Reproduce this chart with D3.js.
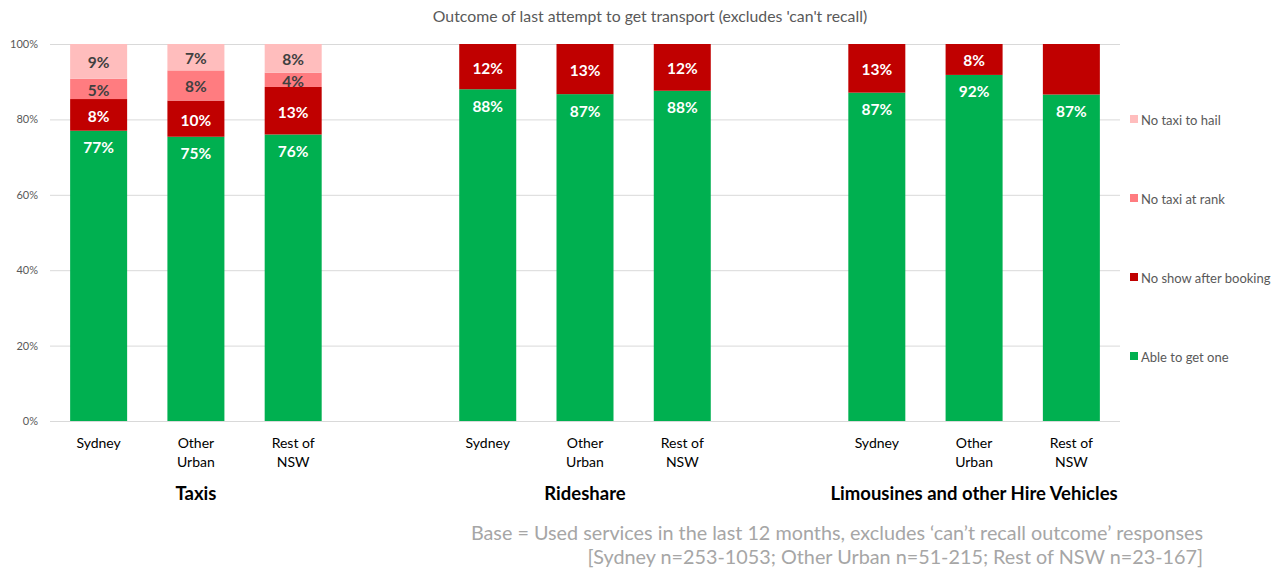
<!DOCTYPE html>
<html>
<head>
<meta charset="utf-8">
<script src="https://cdn.jsdelivr.net/npm/d3@7"></script>
<style>
  html, body { margin: 0; padding: 0; background: #fff; }
  svg { display: block; font-family: Lato, "Open Sans", sans-serif; }
</style>
</head>
<body>
<svg id="chart" width="1285" height="572"></svg>
<script>
// Survey results: outcome of the last attempt to get transport, by service and region
const groups = ["Taxis", "Rideshare", "Limousines and other Hire Vehicles"];
const regions = [["Sydney"], ["Other", "Urban"], ["Rest of", "NSW"]];
const seriesNames = ["Able to get one", "No show after booking", "No taxi at rank", "No taxi to hail"];
const seriesColors = ["#00B050", "#C00000", "#FF7C80", "#FFBDBD"];
const labelColors = ["#ffffff", "#ffffff", "#404040", "#404040"];

// share of respondents (%) per bar, in order: Taxis x3, Rideshare x3, Limousines x3
const ableToGetOne   = [77.0, 75.4, 76.0, 88.0, 86.7, 87.6, 87.1, 91.8, 86.6];
const noShowBooking  = [8.4, 9.6, 12.6, 12.0, 13.3, 12.4, 12.9, 8.2, 13.4];
const noTaxiAtRank   = [5.4, 8.0, 3.8, 0, 0, 0, 0, 0, 0];
const noTaxiToHail   = [9.2, 7.0, 7.6, 0, 0, 0, 0, 0, 0];
// bars whose "No show after booking" segment carries no data label
const unlabelled = [[8, 1]];

const yTicks = [0, 20, 40, 60, 80, 100];
const titleText = "Outcome of last attempt to get transport (excludes 'can't recall)";
const footnote = [
  "Base = Used services in the last 12 months, excludes \u2018can\u2019t recall outcome\u2019 responses",
  "[Sydney n=253-1053; Other Urban n=51-215; Rest of NSW n=23-167]"
];

const series = [ableToGetOne, noShowBooking, noTaxiAtRank, noTaxiToHail];

// one row per bar, with a slot index leaving an empty slot between groups
const rows = ableToGetOne.map((_, i) => {
  const g = Math.floor(i / 3), r = i % 3;
  const row = { i, g, r, slot: String(g * 4 + r) };
  seriesNames.forEach((s, k) => row[s] = series[k][i]);
  return row;
});

const svg = d3.select("#chart");
const m = { left: 50, right: 165, top: 44, bottom: 151 };
const W = 1285, H = 572;

const x = d3.scaleBand()
  .domain(d3.range(11).map(String))
  .range([m.left, W - m.right])
  .paddingInner(0.414)
  .paddingOuter(0.207);
const y = d3.scaleLinear().domain([0, 100]).range([H - m.bottom, m.top]);

// gridlines + y axis labels
const yAxis = d3.axisLeft(y).tickValues(yTicks).tickFormat(d => d + "%")
  .tickSize(-(W - m.right - m.left)).tickPadding(12);
const ga = svg.append("g").attr("transform", `translate(${m.left},0)`).call(yAxis);
ga.select(".domain").remove();
ga.selectAll(".tick line").attr("stroke", "#d9d9d9").attr("stroke-width", 1);
ga.selectAll(".tick text").attr("fill", "#595959").style("font-size", "11px")
  .style("font-family", "Lato, sans-serif");

// stacked bars
const stack = d3.stack().keys(seriesNames);
const stacked = stack(rows);
const layer = svg.append("g").selectAll("g").data(stacked).join("g")
  .attr("fill", (d, k) => seriesColors[k]);
layer.selectAll("rect").data(d => d.filter(p => p[1] - p[0] > 0)).join("rect")
  .attr("x", p => x(p.data.slot))
  .attr("width", x.bandwidth())
  .attr("y", p => y(p[1]))
  .attr("height", p => y(p[0]) - y(p[1]));

// value labels
const fmt = v => d3.format(".0f")(v) + "%";
const lab = svg.append("g").style("font-weight", "700").style("font-size", "15.5px")
  .attr("text-anchor", "middle");
stacked.forEach((s, k) => {
  s.forEach(p => {
    const v = p[1] - p[0];
    if (v <= 0) return;
    if (unlabelled.some(([b, sk]) => b === p.data.i && sk === k)) return;
    const yc = k === 0 ? y(p[1]) + 17 : (y(p[0]) + y(p[1])) / 2 + 1.5;
    lab.append("text")
      .attr("x", x(p.data.slot) + x.bandwidth() / 2)
      .attr("y", yc)
      .attr("dy", "0.35em")
      .attr("fill", labelColors[k])
      .text(fmt(v));
  });
});

// region labels under each bar
const cat = svg.append("g").style("font-size", "14px").attr("fill", "#000")
  .attr("text-anchor", "middle");
rows.forEach(row => {
  const t = cat.append("text")
    .attr("x", x(row.slot) + x.bandwidth() / 2)
    .attr("y", 448);
  regions[row.r].forEach((line, li) => {
    t.append("tspan").attr("x", x(row.slot) + x.bandwidth() / 2)
      .attr("dy", li === 0 ? 0 : 19).text(line);
  });
});

// group labels
svg.append("g").selectAll("text").data(groups).join("text")
  .attr("x", (d, g) => x(String(g * 4 + 1)) + x.bandwidth() / 2)
  .attr("y", 500)
  .attr("text-anchor", "middle")
  .style("font-weight", "700").style("font-size", "18.5px").attr("fill", "#000")
  .text(d => d);

// title
svg.append("text").attr("x", 650).attr("y", 22).attr("text-anchor", "middle")
  .attr("fill", "#595959").style("font-size", "15.8px").text(titleText);

// legend, top entry first
const legendY = [357, 278, 199, 120];
const leg = svg.append("g").selectAll("g").data(seriesNames).join("g")
  .attr("transform", (d, k) => `translate(1130,${legendY[k]})`);
leg.append("rect").attr("x", 0).attr("y", -5).attr("width", 8).attr("height", 8)
  .attr("fill", (d, k) => seriesColors[k]);
leg.append("text").attr("x", 11).attr("y", 0).attr("dy", "0.35em")
  .attr("fill", "#595959").style("font-size", "13px").text(d => d);

// footnote
svg.append("g").selectAll("text").data(footnote).join("text")
  .attr("x", 1203).attr("y", (d, i) => 540 + i * 24)
  .attr("text-anchor", "end").attr("fill", "#a6a6a6")
  .style("font-size", "19.8px").text(d => d);
</script>
</body>
</html>
